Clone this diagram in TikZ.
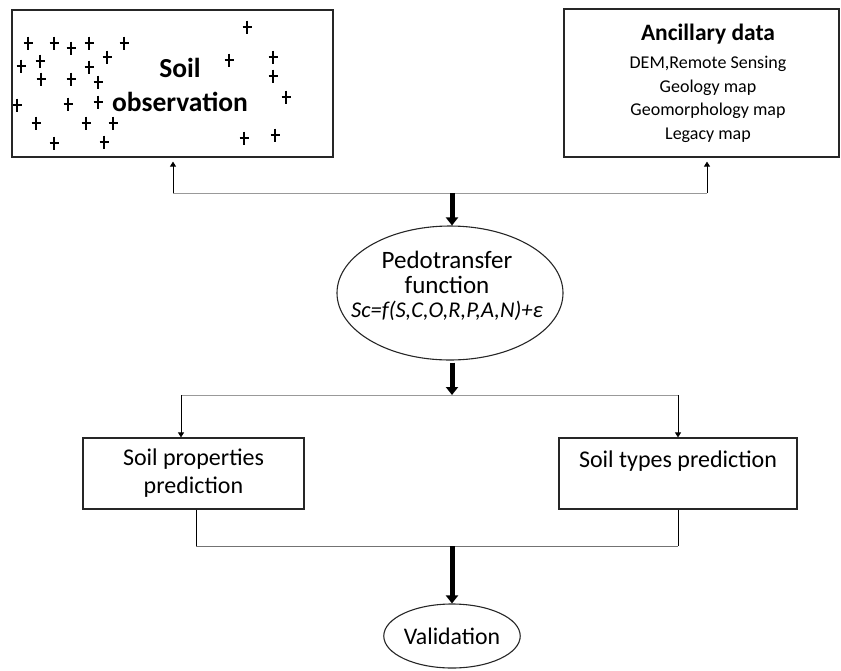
\documentclass[tikz,border=0pt]{standalone}
\usepackage{fontspec}
\setmainfont{Carlito}
\usetikzlibrary{arrows.meta,shapes.geometric,calc}
\begin{document}
\begin{tikzpicture}[x=1pt,y=-1pt,
  box/.style={draw=black!85, line width=1.2pt, inner sep=0pt},
  oval/.style={draw=black!85, line width=1.1pt, ellipse, inner sep=0pt},
  hline/.style={draw=black!40, line width=0.9pt},
  vline/.style={draw=black, line width=0.9pt},
  smallarr/.style={vline, -{Triangle[width=6pt,length=5pt]}},
  bigarr/.style={draw=black, line width=5pt, -{Triangle[width=12pt,length=8pt]}},
  plusst/.style={draw=black, line width=1.5pt},
  txt/.style={inner sep=0pt, align=center}
]
\useasboundingbox (0,0) rectangle (841,670);

% top boxes
\node[box, minimum width=321pt, minimum height=147pt] (soil) at (172.5,83.5) {};
\node[txt, font=\fontsize{27.5}{34}\selectfont\bfseries] (soiltxt) at (180,85) {Soil\\observation};
\foreach \px/\py in {28/43,54/43,71/48,89/43,124/43,21/66,40/61,107/57,89/67,41/79,71/79,98/82,17/105,68/104,98/102,36/123,86/123,113/123,54/143,104/142,247/27,229/60,273/57,273/76,286/97,244/138,275/135}
  \draw[plusst] (\px-4.5,\py) -- (\px+4.5,\py) (\px,\py-6.5) -- (\px,\py+6.5);

\node[box, minimum width=275pt, minimum height=148pt] (anc) at (701.5,83) {};
\node[txt, font=\fontsize{18}{23.5}\selectfont] (anctxt) at (708,83)
  {{\fontsize{23.5}{24}\selectfont\bfseries Ancillary data}\\[5pt]
   DEM,Remote Sensing\\Geology map\\Geomorphology map\\Legacy map};

% top connectors
\coordinate (tl) at (173,193);
\coordinate (tr) at (707,193);
\coordinate (tm) at (452,193);
\draw[hline] (tl) -- (tr);
\draw[smallarr, shorten >=4pt] (tl) -- (tl |- soil.south);
\draw[smallarr, shorten >=4pt] (tr) -- (tr |- anc.south);

% pedotransfer ellipse
\node[oval, minimum width=226pt, minimum height=134pt] (ptf) at (450,293) {};
\node[txt, font=\fontsize{25}{24.5}\selectfont] (ptftxt) at (447,286)
  {Pedotransfer\\function\\{\fontsize{22.5}{24.5}\selectfont\textit{Sc=f(S,C,O,R,P,A,N)+ε}}};
\draw[bigarr] (tm) -- (tm |- ptf.north);

% middle connectors
\coordinate (ml) at (181,395);
\coordinate (mr) at (678,395);
\coordinate (mm) at (452,395);
\draw[bigarr, shorten <=2pt] (mm |- ptf.south) -- (mm);
\draw[hline] (ml) -- (mr);

% prediction boxes
\node[box, minimum width=221pt, minimum height=71pt, font=\fontsize{24}{28}\selectfont, align=center] (props) at (193.5,473.5) {Soil properties\\prediction};
\node[box, minimum width=238pt, minimum height=71pt, font=\fontsize{24}{28}\selectfont, align=center] (types) at (678,473.5) {Soil types prediction\\\mbox{}};
\draw[smallarr] (ml) -- (ml |- props.north);
\draw[smallarr] (mr) -- (mr |- types.north);

% bottom connectors
\coordinate (bl) at (196,546);
\coordinate (br) at (678,546);
\coordinate (bm) at (452,546);
\draw[vline] (bl |- props.south) -- (bl);
\draw[vline] (br |- types.south) -- (br);
\draw[hline, draw=black!55] (bl) -- (br);

% validation
\node[oval, minimum width=135pt, minimum height=64pt, font=\fontsize{23.8}{28}\selectfont] (val) at (452,636) {Validation};
\draw[bigarr] (bm) -- (val.north);
\end{tikzpicture}
\end{document}
